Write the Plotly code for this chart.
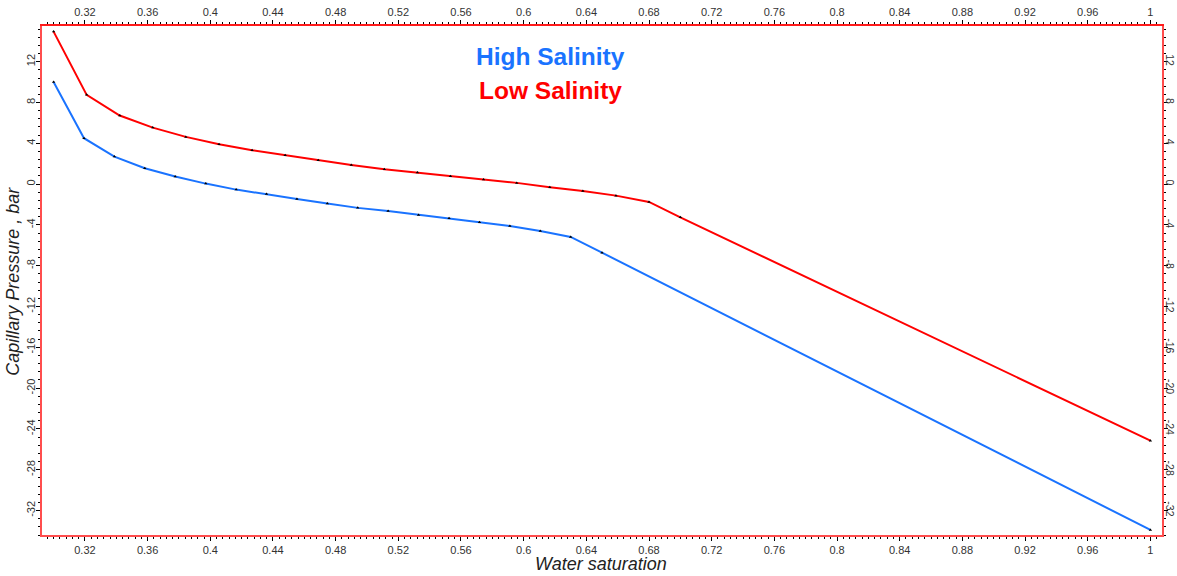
import numpy as np
import plotly.graph_objects as go

# Water saturation grid and capillary pressure (bar) for each brine
sw_high = [0.3, 0.3194, 0.3388, 0.3582, 0.3776, 0.3971, 0.4165, 0.4359, 0.4553,
           0.4747, 0.4941, 0.5135, 0.5329, 0.5524, 0.5718, 0.5912, 0.6106, 0.63,
           0.65, 1.0]
pc_high = [10.0, 4.5, 2.7, 1.56, 0.74, 0.05, -0.54, -0.96, -1.45,
           -1.91, -2.33, -2.63, -3.02, -3.34, -3.74, -4.10, -4.59, -5.18,
           -6.72, -33.9]

sw_low = [0.3, 0.3211, 0.3422, 0.3633, 0.3844, 0.4056, 0.4267, 0.4478, 0.4689,
          0.49, 0.5111, 0.5322, 0.5533, 0.5744, 0.5956, 0.6167, 0.6378, 0.6589,
          0.68, 0.70, 1.0]
pc_low = [14.95, 8.75, 6.72, 5.54, 4.63, 3.91, 3.32, 2.83, 2.34,
          1.88, 1.46, 1.13, 0.77, 0.44, 0.12, -0.30, -0.67, -1.13,
          -1.75, -3.26, -25.15]

x_ticks = [0.32, 0.36, 0.4, 0.44, 0.48, 0.52, 0.56, 0.6, 0.64, 0.68, 0.72,
           0.76, 0.8, 0.84, 0.88, 0.92, 0.96, 1]
x_tick_text = ["0.32", "0.36", "0.4", "0.44", "0.48", "0.52", "0.56", "0.6", "0.64",
               "0.68", "0.72", "0.76", "0.8", "0.84", "0.88", "0.92", "0.96", "1"]
y_ticks = [12, 8, 4, 0, -4, -8, -12, -16, -20, -24, -28, -32]
y_tick_text = ["12", "8", "4", "0", "-4", "-8", "-12", "-16", "-20", "-24", "-28", "-32"]

series_names = ["High Salinity", "Low Salinity"]
series_colors = ["#1a73ff", "#ff0000"]
x_title = "Water saturation"
y_title = "Capillary Pressure , bar"

FONT = "Liberation Sans, Arial, sans-serif"
AXIS_RED = "#ff4d4d"

fig = go.Figure()
for sw, pc, name, col in [(sw_high, pc_high, series_names[0], series_colors[0]),
                          (sw_low, pc_low, series_names[1], series_colors[1])]:
    fig.add_trace(go.Scatter(
        x=sw, y=pc, name=name, mode="lines+markers",
        line=dict(color=col, width=2),
        marker=dict(symbol="triangle-up", size=3, color="black"),
        showlegend=False,
    ))

tick_font = dict(family=FONT, size=11, color="#333333")
x_range = [0.2926, 1.0074]
y_range = [-34.4, 15.5]

common_x = dict(
    range=x_range, tickvals=x_ticks, ticktext=x_tick_text, automargin=False,
    showgrid=False, zeroline=False, showline=True, linewidth=1.5,
    ticks="outside", ticklen=4, tickcolor="black", tickwidth=1,
    tickfont=tick_font,
    minor=dict(dtick=0.004, tick0=0.0, ticks="outside", ticklen=2,
               tickcolor="black", tickwidth=1),
)
common_y = dict(
    range=y_range, tickvals=y_ticks, ticktext=y_tick_text, automargin=False,
    showgrid=False, zeroline=False, showline=True, linewidth=1.5,
    ticks="outside", ticklen=4, tickcolor="black", tickwidth=1,
    minor=dict(dtick=0.8, tick0=0.0, ticks="outside", ticklen=2,
               tickcolor="black", tickwidth=1),
)

fig.update_layout(
    width=1177, height=576,
    margin=dict(l=42, r=15, t=26, b=41),
    paper_bgcolor="white", plot_bgcolor="white",
    font=dict(family=FONT),
    xaxis=dict(**common_x, linecolor=AXIS_RED, side="bottom"),
    xaxis2=dict(**common_x, linecolor="#ff1a1a", side="top", overlaying="x",
                matches="x"),
    yaxis=dict(**common_y, linecolor=AXIS_RED, side="left", tickangle=-90,
               tickfont=tick_font, ticklabelstandoff=-3),
    yaxis2=dict(**common_y, linecolor=AXIS_RED, side="right", tickangle=90,
                tickfont=dict(family=FONT, size=10.5, color="#333333"),
                overlaying="y", matches="y", ticklabelstandoff=-6),
)

# Invisible trace to render the mirrored top and right axes
fig.add_trace(go.Scatter(x=[sw_low[0]], y=[pc_low[0]], xaxis="x2", yaxis="y2",
                         mode="markers", marker=dict(opacity=0), showlegend=False,
                         hoverinfo="skip"))

# Axis titles
title_font = dict(family=FONT, size=18, color="#222222")
fig.add_annotation(text=f"<i>{x_title}</i>", xref="paper", yref="paper",
                   x=0.4994, y=-0.0564, xanchor="center", yanchor="middle",
                   showarrow=False, font=title_font)
fig.add_annotation(text=f"<i>{y_title}</i>", xref="paper", yref="paper",
                   x=-0.0259, y=0.4993, xanchor="center", yanchor="middle",
                   textangle=-90, showarrow=False, font=title_font)

# Series labels
fig.add_annotation(text=f"<b>{series_names[0]}</b>", xref="paper", yref="paper",
                   x=0.4544, y=0.941, xanchor="center", yanchor="middle",
                   showarrow=False,
                   font=dict(family=FONT, size=24.5, color=series_colors[0]))
fig.add_annotation(text=f"<b>{series_names[1]}</b>", xref="paper", yref="paper",
                   x=0.4544, y=0.874, xanchor="center", yanchor="middle",
                   showarrow=False,
                   font=dict(family=FONT, size=24.5, color=series_colors[1]))

fig.write_html("out.html")
